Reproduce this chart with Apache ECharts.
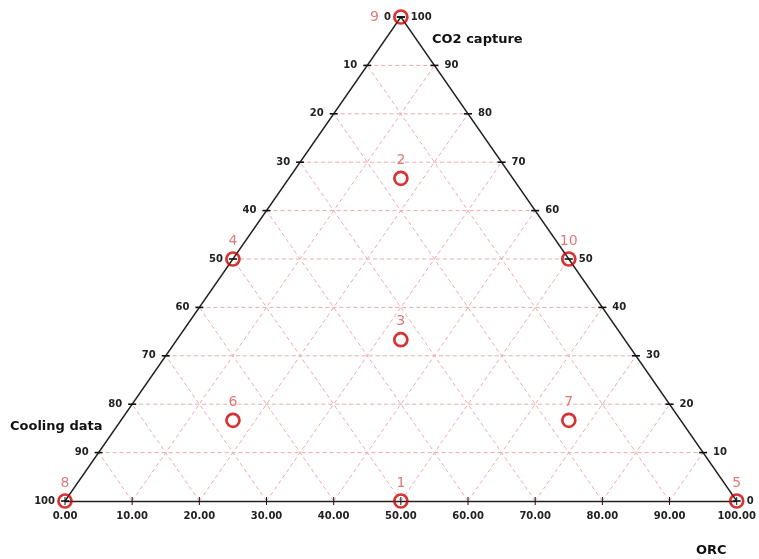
<!DOCTYPE html>
<html><head><meta charset="utf-8">
<script src="https://cdn.jsdelivr.net/npm/echarts@6/dist/echarts.min.js"></script>
<style>html,body{margin:0;padding:0;background:#fff}#c{width:759px;height:559px}</style>
</head><body><div id="c"></div>
<script>
// Ternary data (percent): Cooling data, ORC, CO2 capture
const pointLabels = ['1','2','3','4','5','6','7','8','9','10'];
const coolingPct  = [50, 16.67, 33.33, 50, 0, 66.67, 16.67, 100, 0, 0];
const orcPct      = [50, 16.67, 33.33, 0, 100, 16.67, 66.67, 0, 0, 50];
const co2Pct      = [0, 66.67, 33.33, 50, 0, 16.67, 16.67, 0, 100, 50];

const bottomTicks = [0,10,20,30,40,50,60,70,80,90,100];
const edgeLevels  = [0,10,20,30,40,50,60,70,80,90,100];
const gridLevels  = [10,20,30,40,50,60,70,80,90];

// ternary -> cartesian (x along ORC axis, y = CO2 height)
function toXY(cool, orc, co2){ return [orc + co2/2, co2]; }

const FONT = 'DejaVu Sans';
const pointData = pointLabels.map((n,i)=>{
  const p = toXY(coolingPct[i], orcPct[i], co2Pct[i]);
  const item = {value:p, name:n};
  if (co2Pct[i] >= 100) item.label = {position:'left', distance:14};
  return item;
});

// grid lines
const gridLines = [];
gridLevels.forEach(k=>{
  gridLines.push([...toXY(100-k,0,k), ...toXY(0,100-k,k)]);   // constant CO2
  gridLines.push([...toXY(100-k,k,0), ...toXY(0,k,100-k)]);   // constant ORC
  gridLines.push([...toXY(k,100-k,0), ...toXY(k,0,100-k)]);   // constant Cooling
});

// edge ticks: left edge labelled by Cooling, right edge by CO2
const edgeTicks = [];
edgeLevels.forEach(k=>{
  const l = toXY(100-k,0,k); edgeTicks.push([l[0], l[1], String(100-k), 'L']);
  const r = toXY(0,100-k,k); edgeTicks.push([r[0], r[1], String(k), 'R']);
});
const bottomTickData = bottomTicks.map(v=>[v,0]);

const corners = [toXY(100,0,0), toXY(0,0,100), toXY(0,100,0)];

const chart = echarts.init(document.getElementById('c'), null, {renderer:'canvas'});
chart.setOption({
  animation:false,
  backgroundColor:'#fff',
  grid:{left:65, right:20, top:17, bottom:58, containLabel:false},
  xAxis:{type:'value', min:0, max:100, interval:10,
    axisLine:{show:true, lineStyle:{color:'#222', width:1.4}},
    axisTick:{show:false}, splitLine:{show:false},
    axisLabel:{formatter:v=>v.toFixed(2), margin:10, color:'#222', fontFamily:FONT, fontWeight:'bold', fontSize:10}},
  yAxis:{type:'value', min:0, max:100, show:false},
  graphic:[
    {type:'text', left:432, top:33, style:{text:'CO2 capture', font:'bold 13px '+FONT, fill:'#111'}},
    {type:'text', left:10, top:420, style:{text:'Cooling data', font:'bold 13px '+FONT, fill:'#111'}},
    {type:'text', left:696, top:544, style:{text:'ORC', font:'bold 13px '+FONT, fill:'#111'}}
  ],
  series:[
    {type:'custom', coordinateSystem:'cartesian2d', data:gridLines, encode:{x:[0,2], y:[1,3]}, silent:true, clip:false, z:1,
      renderItem:(params, api)=>{
        const a = api.coord([api.value(0), api.value(1)]);
        const b = api.coord([api.value(2), api.value(3)]);
        return {type:'line', shape:{x1:a[0],y1:a[1],x2:b[0],y2:b[1]},
          style:{stroke:'#eeaaaa', lineWidth:1, lineDash:[4,3]}};
      }},
    {type:'line', data:corners, symbol:'none', lineStyle:{color:'#222', width:1.4}, z:3, silent:true, clip:false},
    {type:'custom', coordinateSystem:'cartesian2d', data:edgeTicks, encode:{x:0, y:1}, silent:true, clip:false, z:4,
      renderItem:(params, api)=>{
        const p = api.coord([api.value(0), api.value(1)]);
        const left = api.value(3) === 'L';
        return {type:'group', children:[
          {type:'line', shape:{x1:p[0]-4,y1:p[1],x2:p[0]+4,y2:p[1]}, style:{stroke:'#111', lineWidth:1.6}},
          {type:'text', style:{text:api.value(2), x: left ? p[0]-10 : p[0]+10, y:p[1],
            textAlign: left ? 'right':'left', align: left ? 'right':'left',
            textVerticalAlign:'middle', verticalAlign:'middle',
            font:'bold 10px '+FONT, fill:'#222'}}
        ]};
      }},
    {type:'custom', coordinateSystem:'cartesian2d', data:bottomTickData, encode:{x:0, y:1}, silent:true, clip:false, z:4,
      renderItem:(params, api)=>{
        const p = api.coord([api.value(0), api.value(1)]);
        return {type:'line', shape:{x1:p[0],y1:p[1]-4,x2:p[0],y2:p[1]+4}, style:{stroke:'#111', lineWidth:1}};
      }},
    {type:'scatter', data:pointData, symbol:'circle', symbolSize:13, clip:false, z:5,
      itemStyle:{color:'rgba(0,0,0,0)', borderColor:'#cc0000', borderWidth:2.7},
      label:{show:true, position:'top', distance:3, formatter:p=>p.name, color:'#d65a56', fontFamily:FONT, fontSize:14}}
  ]
});
</script></body></html>
